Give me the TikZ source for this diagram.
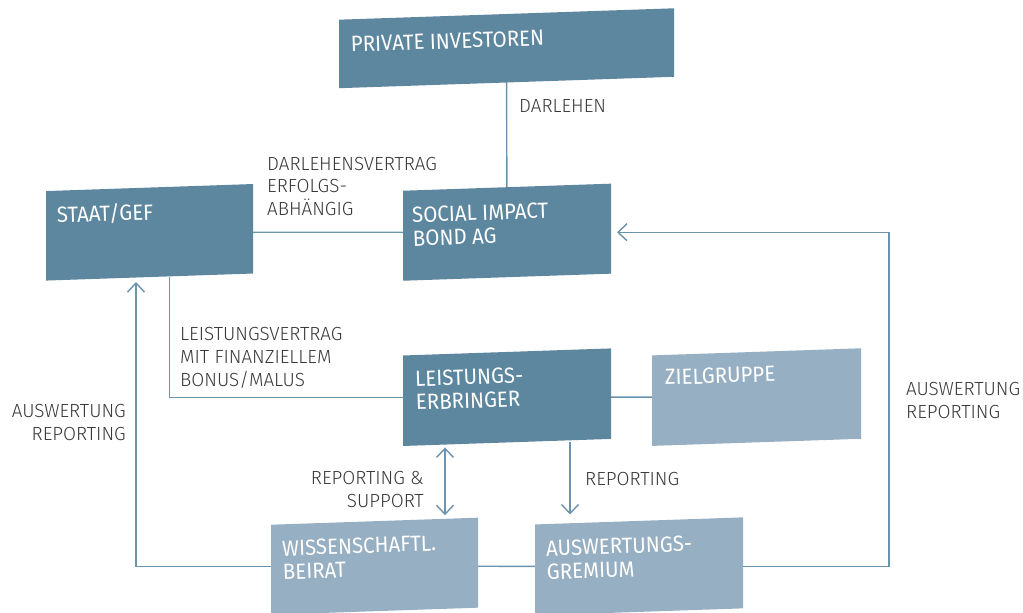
\documentclass[tikz,border=0pt]{standalone}
\usepackage{fontspec}
\setmainfont{Fira Sans}
\newfontfamily\labfont[FakeStretch=0.99]{Fira Sans Light}
\newfontfamily\boxfont[FakeStretch=0.93]{Fira Sans}
\usetikzlibrary{arrows.meta}
\definecolor{dkbox}{HTML}{5D869F}
\definecolor{ltbox}{HTML}{96AFC2}
\definecolor{conn}{HTML}{6B93AE}
\definecolor{labtxt}{HTML}{383838}
\pgfdeclarelayer{bg}
\pgfsetlayers{bg,main}
\tikzset{
  dk/.style={fill=dkbox, draw=none, inner sep=0pt, outer sep=0pt, yslant=0.034},
  lt/.style={fill=ltbox, draw=none, inner sep=0pt, outer sep=0pt, yslant=0.034},
  boxtxt/.style={text=white, inner sep=0pt, anchor=base west, rotate=1.95, align=left,
     font=\boxfont\fontsize{22}{23.5}\selectfont},
  lab/.style={text=labtxt, inner sep=0pt, font=\labfont\fontsize{19}{22.7}\selectfont},
  conline/.style={draw=conn, line width=1.4pt},
  arr/.style={-{Straight Barb[length=9pt,width=17pt]}},
  darr/.style={{Straight Barb[length=9pt,width=17pt]}-{Straight Barb[length=9pt,width=17pt]}}
}
\begin{document}
\begin{tikzpicture}[x=1pt,y=1pt]
\useasboundingbox (0,0) rectangle (1023,-613);
% boxes
\node[dk, minimum width=335pt, minimum height=68.5pt] (piv) at (506.5,-48.25) {};
\node[dk, minimum width=207pt, minimum height=89.5pt] (staat) at (149.5,-232.3) {};
\node[dk, minimum width=208pt, minimum height=90pt] (sib) at (507,-232.2) {};
\node[dk, minimum width=208pt, minimum height=90.5pt] (le) at (507,-397.2) {};
\node[lt, minimum width=209pt, minimum height=90.5pt] (zg) at (756.5,-397.1) {};
\node[lt, minimum width=207pt, minimum height=90pt] (wb) at (374.5,-566.2) {};
\node[lt, minimum width=208pt, minimum height=91pt] (ag) at (639,-566.4) {};
% connectors (behind boxes)
\begin{pgfonlayer}{bg}
\path[conline] (piv.center) -- (sib.center);
\path[conline] (staat.center) -- (sib.center);
\path[conline] ([xshift=20pt]staat.south) |- (le.center);
\path[conline] (le.center) -- (zg.center);
\path[conline] (wb.center) -- (ag.center);
\path[conline, arr] (wb.center) -| ([xshift=-13.5pt,yshift=-5pt]staat.south);
\coordinate (rc) at (889,-400);
\path[conline, arr] (ag.center) -| (rc) |- ([xshift=6pt,yshift=-3.54pt]sib.east);
\path[conline, darr] ([xshift=-62pt,yshift=-5pt]le.south) -- ([xshift=70.5pt,yshift=6pt]wb.north);
\path[conline, arr] ([xshift=63pt]le.south) -- ([xshift=-69pt,yshift=6.4pt]ag.north);
\end{pgfonlayer}
% box texts
\node[boxtxt] (pivT) at (351,-52) {PRIVATE INVESTOREN};
\node[boxtxt] (staatT) at (57,-223) {STAAT/GEF};
\node[boxtxt] (sibT) at (413,-246.3) {SOCIAL IMPACT\\BOND AG};
\node[boxtxt] (leT) at (416,-410) {LEISTUNGS-\\ERBRINGER};
\node[boxtxt] (zgT) at (665,-385) {ZIELGRUPPE};
\node[boxtxt] (wbT) at (283,-579.5) {WISSENSCHAFTL.\\BEIRAT};
\node[boxtxt] (agT) at (547,-579.5) {AUSWERTUNGS-\\GREMIUM};
% labels
\node[lab, anchor=base west] (l1) at (519,-112) {DARLEHEN};
\node[lab, anchor=base west, align=left] (l2) at (267,-215.5) {DARLEHENSVERTRAG\\ERFOLGS-\\ABHÄNGIG};
\node[lab, anchor=base west, align=left] (l3) at (180,-386) {LEISTUNGSVERTRAG\\MIT FINANZIELLEM\\BONUS/MALUS};
\node[lab, anchor=base east, align=right] (l4) at (126,-440) {AUSWERTUNG\\REPORTING};
\node[lab, anchor=base west, align=left] (l5) at (906,-418) {AUSWERTUNG\\REPORTING};
\node[lab, anchor=base east, align=right] (l6) at (424,-507) {REPORTING \&\\SUPPORT};
\node[lab, anchor=base west] (l7) at (585,-485) {REPORTING};
\end{tikzpicture}
\end{document}
